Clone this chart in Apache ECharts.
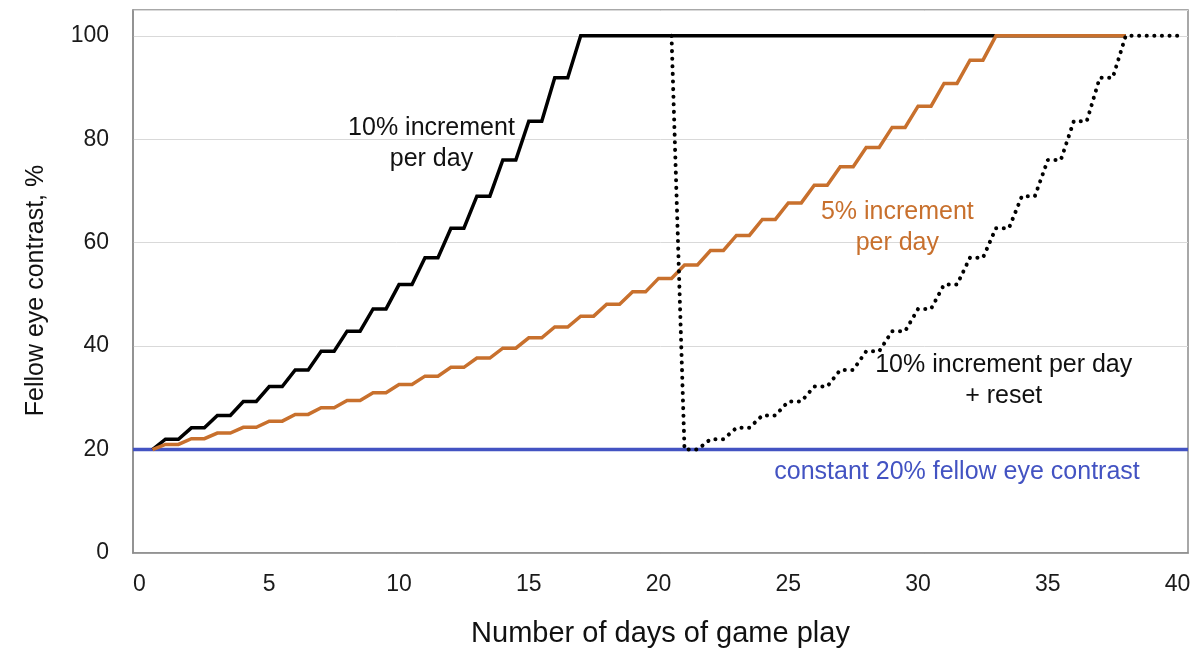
<!DOCTYPE html>
<html>
<head>
<meta charset="utf-8">
<script src="https://cdn.jsdelivr.net/npm/echarts@6/dist/echarts.min.js"></script>
<style>
html,body{margin:0;padding:0;background:#fff;}
#chart{width:1200px;height:662px;}
</style>
</head>
<body>
<div id="chart"></div>
<script>
// ---- data ----
const xTickLabels = [0, 5, 10, 15, 20, 25, 30, 35, 40];
const yTickLabels = [0, 20, 40, 60, 80, 100];

// 10% increment per day: daily values from day 0
const tenPctFirstDay = 0;
const tenPctValues = [20, 22, 24.2, 26.6, 29.3, 32.2, 35.4, 39, 42.9, 47.2, 51.9, 57.1, 62.8, 69, 76, 83.5, 91.9, 100];
const tenPctEndDay = 38;

// 5% increment per day: daily values from day 0
const fivePctFirstDay = 0;
const fivePctValues = [20, 21, 22.1, 23.2, 24.3, 25.5, 26.8, 28.1, 29.5, 31, 32.6, 34.2, 35.9, 37.7, 39.6, 41.6, 43.7, 45.8, 48.1, 50.5, 53.1, 55.7, 58.5, 61.4, 64.5, 67.7, 71.1, 74.7, 78.4, 82.3, 86.4, 90.8, 95.3, 100];
const fivePctEndDay = 38;

// 10% increment per day + reset: daily values from day 20
const resetFirstDay = 20;
const resetValues = [100, 20, 22, 24.2, 26.6, 29.3, 32.2, 35.4, 39, 42.9, 47.2, 51.9, 57.1, 62.8, 69, 76, 83.5, 91.9, 100];
const resetEndDay = 40.25;

// constant 20%
const constantValue = 20;

const xMin = -0.25, xMax = 40.4;

// annotations: [x, y, text, colour]
const annotations = [
  [11.25, 79.2, '10% increment\nper day', '#111111'],
  [29.2, 62.9, '5% increment\nper day', '#C8702D'],
  [33.3, 33.3, '10% increment per day\n+ reset', '#111111'],
  [31.5, 15.6, 'constant 20% fellow eye contrast', '#4353C2']
];

// build step-line points: each day's value at day d, held until d+0.5, then rising to next day
function stepPoints(firstDay, values, endDay) {
  const pts = [];
  values.forEach((v, i) => {
    const d = firstDay + i;
    if (i > 0) pts.push([d, v]);
    pts.push([d + 0.5, v]);
  });
  const last = values[values.length - 1];
  pts.push([endDay, last]);
  return pts;
}

const FONT = '"Liberation Sans", Arial, sans-serif';
const chart = echarts.init(document.getElementById('chart'));

chart.setOption({
  animation: false,
  backgroundColor: '#ffffff',
  grid: {
    left: 133, right: 12, top: 10, bottom: 109,
    show: true, borderColor: '#8c8c8c', borderWidth: 1.5, backgroundColor: 'transparent'
  },
  xAxis: {
    type: 'value', min: xMin, max: xMax,
    name: 'Number of days of game play',
    nameLocation: 'middle', nameGap: 66,
    nameTextStyle: { fontFamily: FONT, fontSize: 29, color: '#111' },
    axisLine: { show: true, onZero: false, lineStyle: { color: '#8c8c8c', width: 1.5 } },
    axisTick: { show: false },
    splitLine: { show: false },
    axisLabel: {
      customValues: xTickLabels,
      fontFamily: FONT, fontSize: 23, color: '#1a1a1a', margin: 20
    }
  },
  yAxis: {
    type: 'value', min: 0, max: 105, interval: 20,
    name: 'Fellow eye contrast, %',
    nameLocation: 'middle', nameGap: 84, nameRotate: 90,
    nameTextStyle: { fontFamily: FONT, fontSize: 25, color: '#111', padding: [0, 18, 0, 0] },
    axisLine: { show: true, onZero: false, lineStyle: { color: '#8c8c8c', width: 1.5 } },
    axisTick: { show: false },
    splitLine: { show: true, lineStyle: { color: '#d9d9d9', width: 1 } },
    axisLabel: {
      customValues: yTickLabels,
      fontFamily: FONT, fontSize: 23, color: '#1a1a1a', margin: 24
    }
  },
  series: [
    {
      name: 'constant 20%', type: 'line', symbol: 'none',
      data: [[xMin, constantValue], [xMax, constantValue]],
      lineStyle: { color: '#4353C2', width: 3.5 }, z: 2
    },
    {
      name: '10% increment', type: 'line', symbol: 'none',
      data: stepPoints(tenPctFirstDay, tenPctValues, tenPctEndDay),
      lineStyle: { color: '#000000', width: 3.5, join: 'miter' }, z: 3
    },
    {
      name: '5% increment', type: 'line', symbol: 'none',
      data: stepPoints(fivePctFirstDay, fivePctValues, fivePctEndDay),
      lineStyle: { color: '#C8702D', width: 3.5, join: 'miter' }, z: 4
    },
    {
      name: '10% increment + reset', type: 'line', symbol: 'none',
      data: stepPoints(resetFirstDay, resetValues, resetEndDay),
      lineStyle: { color: '#000000', width: 4, type: [0.1, 7.5], cap: 'round' }, z: 5
    },
    {
      name: 'annotations', type: 'scatter', symbolSize: 1, silent: true, z: 6,
      itemStyle: { opacity: 1, color: 'rgba(0,0,0,0)' },
      data: annotations.map(a => ({
        value: [a[0], a[1]], text: a[2],
        label: { color: a[3] }
      })),
      label: {
        show: true, position: 'inside', opacity: 1,
        formatter: p => p.data.text,
        fontFamily: FONT, fontSize: 25, lineHeight: 31, align: 'center', verticalAlign: 'middle'
      }
    }
  ]
});
</script>
</body>
</html>
